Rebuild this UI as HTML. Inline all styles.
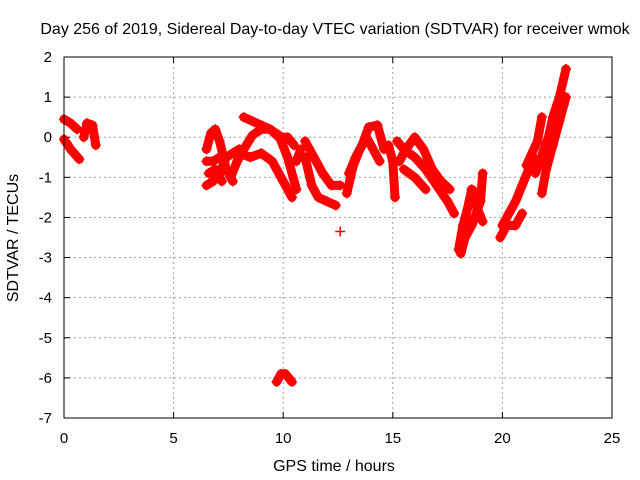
<!DOCTYPE html>
<html><head><meta charset="utf-8"><style>
body{margin:0;background:#fff}
svg{display:block;font-family:"Liberation Sans",sans-serif}
</style></head><body>
<svg id="chart" width="640" height="480">
<rect width="640" height="480" fill="#fff"/>
<text x="335" y="34" font-size="16" text-anchor="middle">Day 256 of 2019, Sidereal Day-to-day VTEC variation (SDTVAR) for receiver wmok</text>
<g id="grid"></g>
<g id="axes"></g>
<g id="marks"></g>
<rect x="64" y="57" width="548" height="361" fill="none" stroke="#000"/>
<text x="334" y="471" font-size="16" text-anchor="middle">GPS time / hours</text>
<text transform="translate(18,238) rotate(-90)" font-size="16" text-anchor="middle">SDTVAR / TECUs</text>
</svg>
<script>
const xTicks=[0,5,10,15,20,25];
const yTicks=[2,1,0,-1,-2,-3,-4,-5,-6,-7];
const arcs=[
[[0,0.45],[0.3,0.35],[0.6,0.2]],
[[0,-0.05],[0.3,-0.3],[0.7,-0.55]],
[[0.9,0.0],[1.05,0.35],[1.3,0.3],[1.45,-0.2]],
[[6.5,-1.2],[6.8,-1.1],[7.1,-0.9],[7.4,-0.5],[7.7,-0.4],[8.0,-0.3]],
[[6.5,-0.3],[6.7,0.1],[6.9,0.2],[7.1,-0.1],[7.4,-0.8],[7.7,-1.1]],
[[6.5,-0.6],[6.8,-0.6],[7.1,-0.5]],
[[6.6,-0.9],[6.9,-0.8],[7.2,-1.1]],
[[7.6,-1.0],[7.9,-0.6],[8.2,-0.3],[8.6,0.05],[9.0,0.2],[9.4,0.2],[9.8,0.05],[10.2,-0.5],[10.6,-1.3]],
[[8.2,0.5],[8.6,0.4],[9.0,0.3],[9.4,0.2],[9.8,0.0],[10.2,0.0],[10.5,-0.2]],
[[8.0,-0.4],[8.5,-0.5],[9.0,-0.4],[9.5,-0.6],[10.0,-1.1],[10.4,-1.5]],
[[9.7,-6.1],[9.9,-5.9],[10.1,-5.9],[10.4,-6.1]],
[[10.6,-0.6],[10.8,-0.3]],
[[11.0,-0.1],[11.4,-0.5],[11.8,-0.9],[12.2,-1.2],[12.6,-1.2]],
[[11.0,-0.5],[11.3,-1.2],[11.6,-1.5],[12.0,-1.6],[12.4,-1.7]],
[[12.6,-2.35]],
[[12.9,-1.4],[13.2,-0.7],[13.5,-0.3],[13.8,0.0],[14.0,-0.2],[14.4,-0.6]],
[[13.0,-0.9],[13.3,-0.5],[13.6,-0.2],[13.9,0.25],[14.3,0.3],[14.6,-0.3]],
[[14.8,-0.2],[15.0,-0.6],[15.1,-1.5]],
[[15.2,-0.1],[15.5,-0.3],[16.0,-0.5],[16.5,-0.8],[17.0,-1.2],[17.5,-1.6],[17.8,-1.9]],
[[15.3,-0.6],[15.6,-0.3],[16.0,0.0],[16.4,-0.3],[16.8,-0.8],[17.2,-1.1],[17.6,-1.3]],
[[15.5,-0.8],[16.0,-1.0],[16.5,-1.3]],
[[18.0,-2.8],[18.2,-2.2],[18.4,-1.8],[18.6,-1.3],[18.8,-1.4]],
[[18.1,-2.9],[18.3,-2.5],[18.6,-2.2],[19.0,-1.6],[19.1,-0.9]],
[[18.6,-1.3],[18.8,-1.7],[19.1,-2.1]],
[[19.9,-2.5],[20.2,-2.2],[20.6,-2.2],[20.9,-1.9]],
[[20.0,-2.2],[20.3,-1.9],[20.6,-1.6],[20.9,-1.2],[21.2,-0.8],[21.4,-0.5]],
[[21.5,-0.9],[21.7,-0.6],[21.9,-0.3],[22.1,0.0],[22.3,0.5],[22.6,1.0],[22.9,1.7]],
[[21.8,-1.4],[22.0,-0.8],[22.3,-0.2],[22.6,0.4],[22.8,0.8],[22.9,1.0]],
[[21.1,-0.7],[21.6,-0.1],[21.8,0.5]]
];
const NS='http://www.w3.org/2000/svg';
const X=t=>64+t*(548/25);
const Y=v=>57+(2-v)*(361/9);
const grid=document.getElementById('grid'),axes=document.getElementById('axes'),marks=document.getElementById('marks');
function mk(tag,attrs,parent){const e=document.createElementNS(NS,tag);for(const k in attrs)e.setAttribute(k,attrs[k]);parent.appendChild(e);return e;}
xTicks.forEach(t=>{
 if(t>0&&t<25){const g=mk('line',{x1:X(t),x2:X(t),y1:57,y2:418,stroke:'#a0a0a0','stroke-dasharray':'2,3'},grid);
 
 }
 const l=mk('text',{x:X(t),y:443,'font-size':15,'text-anchor':'middle'},axes);l.textContent=t;
 
 
 mk('line',{x1:X(t),x2:X(t),y1:418,y2:412,stroke:'#000'},axes);
 mk('line',{x1:X(t),x2:X(t),y1:57,y2:63,stroke:'#000'},axes);
});
yTicks.forEach(v=>{
 if(v<2&&v>-7){const g=mk('line',{x1:64,x2:612,y1:Y(v),y2:Y(v),stroke:'#a0a0a0','stroke-dasharray':'2,3'},grid);
 
 }
 const l=mk('text',{x:52,y:Y(v)+5,'font-size':15,'text-anchor':'end'},axes);l.textContent=v;
 
 
 mk('line',{x1:64,x2:70,y1:Y(v),y2:Y(v),stroke:'#000'},axes);
 mk('line',{x1:612,x2:606,y1:Y(v),y2:Y(v),stroke:'#000'},axes);
});
arcs.forEach((arc,i)=>{
 const g=mk('g',{},marks);
 
 
 if(arc.length>1){mk('polyline',{points:arc.map(p=>X(p[0])+','+Y(p[1])).join(' '),fill:'none',stroke:'#f00','stroke-width':9,'stroke-linejoin':'round','stroke-linecap':'round'},g);}
 arc.forEach(p=>{
  const m=mk('path',{d:`M${X(p[0])-5},${Y(p[1])}h10M${X(p[0])},${Y(p[1])-5}v10`,stroke:'#f00','stroke-width':1.5},g);
  
  
 });
});
</script>
</body></html>
